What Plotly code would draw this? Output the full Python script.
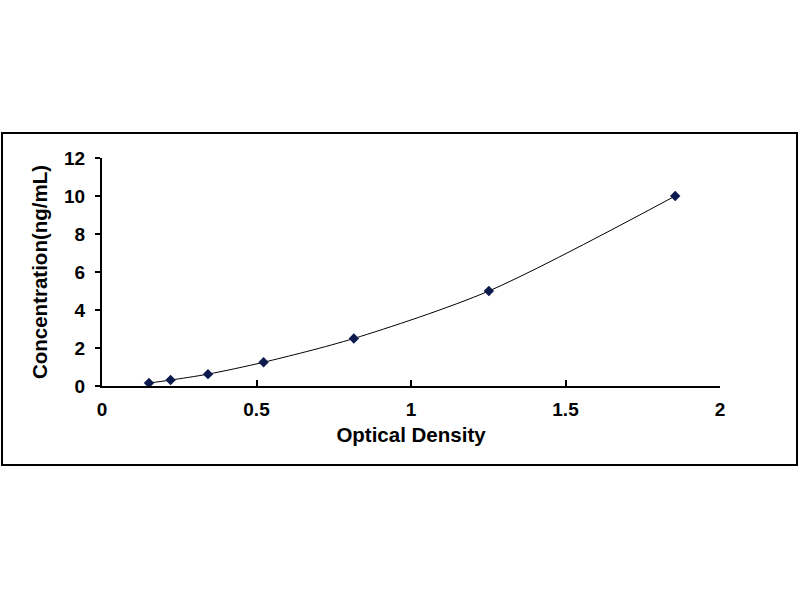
import plotly.graph_objects as go

# -------- DATA --------
od = [0.152, 0.222, 0.343, 0.523, 0.815, 1.252, 1.855]
conc = [0.156, 0.312, 0.625, 1.25, 2.5, 5, 10]
x_ticks = [0, 0.5, 1, 1.5, 2]
x_tick_labels = ["0", "0.5", "1", "1.5", "2"]
y_ticks = [0, 2, 4, 6, 8, 10, 12]
y_tick_labels = ["0", "2", "4", "6", "8", "10", "12"]

# -------- LAYOUT GEOMETRY (pixels) --------
W, H = 800, 600
plot_l, plot_r, plot_t, plot_b = 102, 720, 158, 386
frame = dict(l=2, r=797, t=133, b=465)

pw = plot_r - plot_l
ph = plot_b - plot_t

def px_x(v):
    return (v - plot_l) / pw

def px_y(v):
    return (plot_b - v) / ph

font_family = "Liberation Sans, Arial, sans-serif"

fig = go.Figure()

fig.add_trace(go.Scatter(
    x=od, y=conc,
    mode="lines+markers",
    line=dict(color="black", width=1, shape="spline", smoothing=0.8),
    marker=dict(symbol="diamond", size=8, color="#0d1a4d"),
    showlegend=False,
    hoverinfo="skip",
))

fig.update_layout(
    width=W, height=H,
    margin=dict(l=plot_l, r=W - plot_r, t=plot_t, b=H - plot_b, pad=0),
    paper_bgcolor="white",
    plot_bgcolor="white",
    font=dict(family=font_family, size=19, color="black"),
    xaxis=dict(
        range=[0, 2], tickvals=x_ticks,
        ticktext=["<b>%s</b>" % t for t in x_tick_labels],
        showgrid=False, zeroline=False,
        showline=True, linecolor="black", linewidth=2,
        ticks="inside", ticklen=6, tickwidth=2, tickcolor="black",
        ticklabelstandoff=5,
        tickfont=dict(family=font_family, size=19, color="black"),
        title=dict(text="<b>Optical Density</b>", font=dict(size=20.5), standoff=9),
        fixedrange=True,
    ),
    yaxis=dict(
        range=[0, 12], tickvals=y_ticks,
        ticktext=["<b>%s</b>" % t for t in y_tick_labels],
        showgrid=False, zeroline=False,
        showline=True, linecolor="black", linewidth=2,
        ticks="outside", ticklen=5, tickwidth=2, tickcolor="black",
        ticklabelstandoff=6,
        tickfont=dict(family=font_family, size=19, color="black"),
        title=dict(text="<b>Concentration(ng/mL)</b>", font=dict(size=20.5), standoff=11),
        fixedrange=True,
    ),
    shapes=[dict(
        type="rect", xref="paper", yref="paper",
        x0=px_x(frame["l"]), x1=px_x(frame["r"]),
        y0=px_y(frame["b"]), y1=px_y(frame["t"]),
        line=dict(color="black", width=2), fillcolor="rgba(0,0,0,0)",
        layer="below",
    )],
)

# drop the default page margin so the 800x600 figure fills the window exactly
fig.write_html(
    "out.html",
    config={"displayModeBar": False},
    post_script="document.body.style.margin='0px';document.body.style.overflow='hidden';",
)
